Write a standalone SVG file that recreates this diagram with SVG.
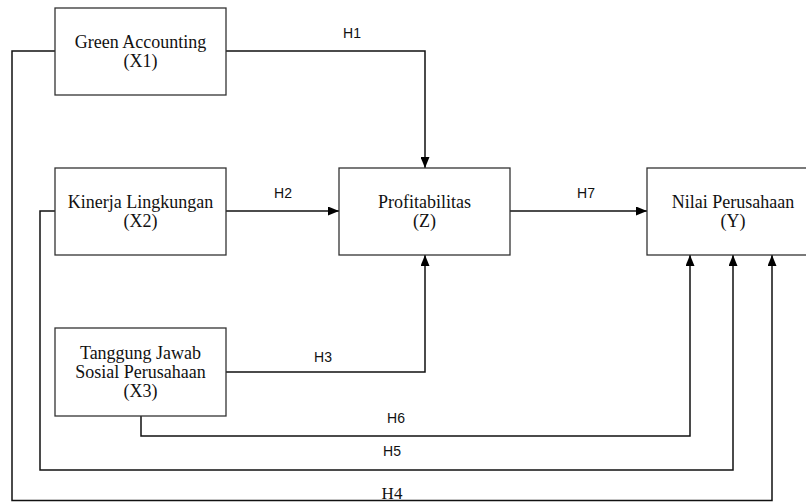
<svg xmlns="http://www.w3.org/2000/svg" width="806" height="502" viewBox="0 0 806 502">
<style>
.box{fill:#fff;stroke:#333;stroke-width:1.3}
.t{font-family:"Liberation Serif","Times New Roman",serif;font-size:18px;fill:#111;text-anchor:middle}
.c{fill:none;stroke:#111;stroke-width:1.5}
.l{font-family:"Liberation Sans",Arial,sans-serif;font-size:14px;fill:#111;text-anchor:middle}
.ls{font-family:"Liberation Serif","Times New Roman",serif;font-size:17px;fill:#111;text-anchor:middle}
</style>
<defs>
<marker id="ah" markerUnits="userSpaceOnUse" markerWidth="11" markerHeight="9" viewBox="0 0 11 9" refX="11" refY="4.5" orient="auto">
<path d="M0,0 L11,4.5 L0,9 Z" fill="#000"/>
</marker>
</defs>
<rect width="806" height="502" fill="#fff"/>
<g id="connectors">
<path class="c" d="M226,51 H425 V168" marker-end="url(#ah)"/>
<path class="c" d="M226,211 H339" marker-end="url(#ah)"/>
<path class="c" d="M226,372 H425 V255" marker-end="url(#ah)"/>
<path class="c" d="M510,211 H647" marker-end="url(#ah)"/>
<path class="c" d="M141,416 V436 H690 V255" marker-end="url(#ah)"/>
<path class="c" d="M55,211 H40 V470 H733 V255" marker-end="url(#ah)"/>
<path class="c" d="M55,51 H12 V500.5 H772 V255" marker-end="url(#ah)"/>
<text class="l" x="352" y="38">H1</text>
<text class="l" x="283" y="198">H2</text>
<text class="l" x="323" y="362">H3</text>
<text class="l" x="586" y="198">H7</text>
<text class="l" x="396" y="423">H6</text>
<text class="l" x="392" y="456">H5</text>
<text class="ls" x="392" y="499">H4</text>
</g>
<g id="x1">
<rect class="box" x="55" y="8" width="171" height="87"/>
<text class="t" x="140.5" y="48">Green Accounting</text>
<text class="t" x="140.5" y="67">(X1)</text>
</g>
<g id="x2">
<rect class="box" x="55" y="168" width="171" height="87"/>
<text class="t" x="140.5" y="208">Kinerja Lingkungan</text>
<text class="t" x="140.5" y="227">(X2)</text>
</g>
<g id="x3">
<rect class="box" x="55" y="328" width="171" height="88"/>
<text class="t" x="140.5" y="359">Tanggung Jawab</text>
<text class="t" x="140.5" y="378">Sosial Perusahaan</text>
<text class="t" x="140.5" y="397">(X3)</text>
</g>
<g id="z">
<rect class="box" x="339" y="168" width="171" height="87"/>
<text class="t" x="424.5" y="208">Profitabilitas</text>
<text class="t" x="424.5" y="227">(Z)</text>
</g>
<g id="y">
<rect class="box" x="647" y="168" width="172" height="87"/>
<text class="t" x="733" y="208">Nilai Perusahaan</text>
<text class="t" x="733" y="227">(Y)</text>
</g>
</svg>
